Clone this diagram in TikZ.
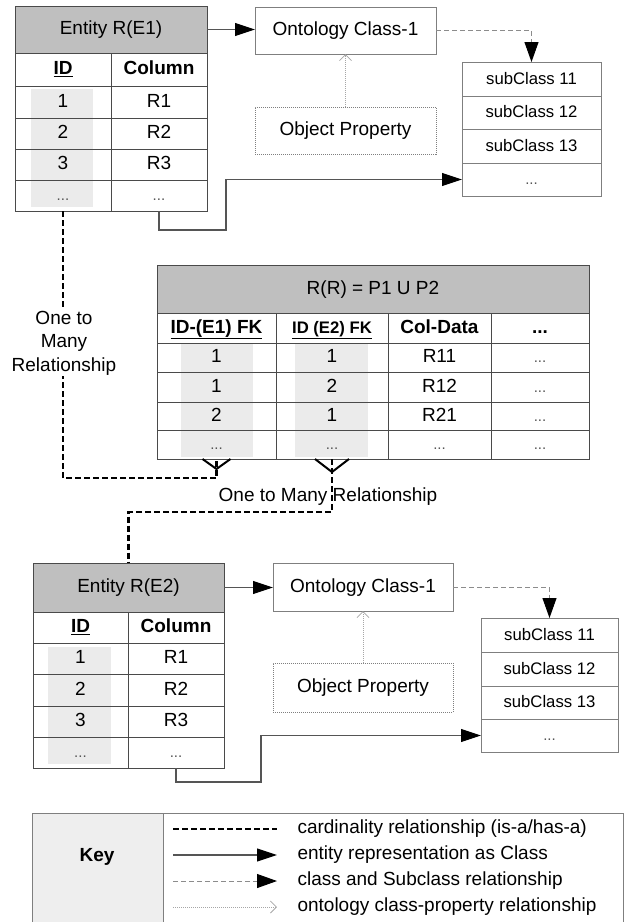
\documentclass[tikz,border=0pt]{standalone}
\usepackage{fontspec}
\setmainfont{Liberation Sans}
\usetikzlibrary{arrows.meta,calc}
\definecolor{hdrgray}{HTML}{BFBFBF}
\definecolor{shadec}{HTML}{EBEBEB}
\definecolor{keyfill}{HTML}{EEEEEE}
\definecolor{tline}{HTML}{4A4A4A}
\definecolor{bline}{HTML}{7F7F7F}
\definecolor{conn}{HTML}{555555}
\definecolor{dashc}{HTML}{8C8C8C}
\definecolor{dotc}{HTML}{A6A6A6}
\definecolor{ellc}{HTML}{555555}
\newcommand\fs{\fontsize{19}{22}\selectfont}
\newcommand\fsm{\fontsize{16.7}{20}\selectfont}
\newcommand\dd{{\fontsize{15}{18}\selectfont\color{ellc}...}}
\newcommand\ulb[1]{\underline{\textbf{#1}}}
\newcommand\tc[7][]{\node[cellb,minimum width=#5pt,minimum height=#6pt,#1] (#2) at (#3,#4) {#7};}
\begin{document}
\begin{tikzpicture}[x=1pt,y=-1pt,
  cellb/.style={draw=tline,line width=1pt,inner sep=0pt,outer sep=0pt,anchor=north west,text height=13pt,text depth=3pt,font=\fs},
  hdr/.style={fill=hdrgray},
  obox/.style={draw=bline},
  pbox/.style={draw=bline,line width=0.8pt,dash pattern=on 1pt off 1pt},
  sub/.style={draw=bline,font=\fsm},
  entarrow/.style={draw=conn,line width=1.1pt,-{Triangle[length=20pt,width=13pt,color=black]}},
  subarrow/.style={draw=dashc,line width=1pt,dash pattern=on 5pt off 3pt,-{Triangle[length=20pt,width=14pt,color=black]}},
  proparrow/.style={draw=dotc,line width=0.8pt,dash pattern=on 1pt off 1pt,-{Straight Barb[length=6pt,width=12pt]}},
  card/.style={draw=black,line width=2.5pt,dash pattern=on 6pt off 3pt},
  crow/.style={draw=black,line width=2pt}
]
\useasboundingbox (0,0) rectangle (634,922);
\clip (0,0) rectangle (634,922);

% shading of key columns
\fill[shadec] (31,89) rectangle (93,207);
\fill[shadec] (181,344) rectangle (253,457);
\fill[shadec] (295,344) rectangle (368,457);
\fill[shadec] (48,647) rectangle (111,764);

% ---------- Entity E1 ----------
\tc[hdr]{E1h}{15}{6}{192}{47}{Entity R(E1)}
\tc{E1i0}{15}{53}{96}{33}{\ulb{ID}}
\tc{E1c0}{111}{53}{96}{33}{\textbf{Column}}
\tc{E1i1}{15}{86}{96}{32}{1}
\tc{E1c1}{111}{86}{96}{32}{R1}
\tc{E1i2}{15}{118}{96}{31}{2}
\tc{E1c2}{111}{118}{96}{31}{R2}
\tc{E1i3}{15}{149}{96}{31}{3}
\tc{E1c3}{111}{149}{96}{31}{R3}
\tc{E1i4}{15}{180}{96}{31}{\dd}
\tc{E1c4}{111}{180}{96}{31}{\dd}

\tc[obox]{O1}{255}{7}{181}{47}{Ontology Class-1}
\tc[pbox]{P1}{255}{107}{181}{47}{Object Property}

\tc[sub]{S11}{462}{62}{139}{34}{subClass 11}
\tc[sub]{S12}{462}{96}{139}{33}{subClass 12}
\tc[sub]{S13}{462}{129}{139}{34}{subClass 13}
\tc[sub]{S14}{462}{163}{139}{33}{\dd}

% ---------- Relation table ----------
\tc[hdr]{Mh}{157}{265}{432}{48}{R(R) = P1 U P2}
\tc{M01}{157}{313}{119}{30}{\ulb{ID-(E1) FK}}
\tc[font=\fsm]{M02}{276}{313}{112}{30}{\ulb{ID (E2) FK}}
\tc{M03}{388}{313}{103}{30}{\textbf{Col-Data}}
\tc{M04}{491}{313}{98}{30}{\textbf{...}}
\tc{M11}{157}{343}{119}{29}{1}
\tc{M12}{276}{343}{112}{29}{1}
\tc{M13}{388}{343}{103}{29}{R11}
\tc{M14}{491}{343}{98}{29}{\dd}
\tc{M21}{157}{372}{119}{30}{1}
\tc{M22}{276}{372}{112}{30}{2}
\tc{M23}{388}{372}{103}{30}{R12}
\tc{M24}{491}{372}{98}{30}{\dd}
\tc{M31}{157}{402}{119}{28}{2}
\tc{M32}{276}{402}{112}{28}{1}
\tc{M33}{388}{402}{103}{28}{R21}
\tc{M34}{491}{402}{98}{28}{\dd}
\tc{M41}{157}{430}{119}{29}{\dd}
\tc{M42}{276}{430}{112}{29}{\dd}
\tc{M43}{388}{430}{103}{29}{\dd}
\tc{M44}{491}{430}{98}{29}{\dd}

% ---------- Entity E2 ----------
\tc[hdr]{E2h}{33}{563}{191}{49}{Entity R(E2)}
\tc{E2i0}{33}{612}{95}{31}{\ulb{ID}}
\tc{E2c0}{128}{612}{96}{31}{\textbf{Column}}
\tc{E2i1}{33}{643}{95}{31}{1}
\tc{E2c1}{128}{643}{96}{31}{R1}
\tc{E2i2}{33}{674}{95}{32}{2}
\tc{E2c2}{128}{674}{96}{32}{R2}
\tc{E2i3}{33}{706}{95}{31}{3}
\tc{E2c3}{128}{706}{96}{31}{R3}
\tc{E2i4}{33}{737}{95}{31}{\dd}
\tc{E2c4}{128}{737}{96}{31}{\dd}

\tc[obox]{O2}{273}{563}{180}{48}{Ontology Class-1}
\tc[pbox]{P2}{273}{663}{180}{49}{Object Property}

\tc[sub]{S21}{481}{618}{137}{34}{subClass 11}
\tc[sub]{S22}{481}{652}{137}{34}{subClass 12}
\tc[sub]{S23}{481}{686}{137}{33}{subClass 13}
\tc[sub]{S24}{481}{719}{137}{33}{\dd}

% ---------- connectors E1 ----------
\draw[entarrow] (E1h.east) -- (E1h.east -| O1.west);
\draw[subarrow] (O1.east) -| (S11.north);
\draw[proparrow] (P1.north) -- (O1.south);
\coordinate (b1) at (226,230);
\draw[entarrow] (E1c4.south) |- (b1) |- (S14.west);

% ---------- connectors E2 ----------
\draw[entarrow] (E2h.east) -- (E2h.east -| O2.west);
\draw[subarrow] (O2.east) -| (S21.north);
\draw[proparrow] (P2.north) -- (O2.south);
\coordinate (b2) at (261,782);
\draw[entarrow] (E2c4.south) |- (b2) |- (S24.west);

% ---------- cardinality ----------
\coordinate (c1) at (216.5,478);
\draw[card] (E1i4.south) |- (c1) -- (M41.south);
\draw[crow] ($(M41.south)+(-14,0)$) -- ($(M41.south)+(0,10)$) -- ($(M41.south)+(14,0)$);
\node[fill=white,align=center,inner sep=1pt,font={\fontsize{19}{23.5}\selectfont}] (lab1) at (64,343) {One to\\Many\\Relationship};

\coordinate (c2) at (332,512);
\draw[card] (M42.south) -- (c2) -| (E2h.north);
\draw[crow] ($(M42.south)+(-17,0)$) -- ($(M42.south)+(0,13)$) -- ($(M42.south)+(17,0)$);
\node[font=\fs] (lab2) at (328,497) {One to Many Relationship};

% ---------- key ----------
\fill[keyfill] (32,813) rectangle (163,930);
\draw[draw=bline,line width=1pt] (32,930) -- (32,813) -- (623,813) -- (623,930);
\draw[draw=bline,line width=1pt] (163,813) -- (163,930);
\node[font={\fs\bfseries}] (key) at (97,857) {Key};
\coordinate (ka1) at (173,829); \coordinate (kb1) at (277,829);
\coordinate (ka2) at (173,855); \coordinate (kb2) at (277,855);
\coordinate (ka3) at (173,881); \coordinate (kb3) at (277,881);
\coordinate (ka4) at (173,907); \coordinate (kb4) at (277,907);
\draw[card,line width=2pt] (ka1) -- (kb1);
\draw[entarrow] (ka2) -- (kb2);
\draw[subarrow] (ka3) -- (kb3);
\draw[proparrow] (ka4) -- (kb4);
\node[anchor=west,font=\fs] (kt1) at (294,829) {cardinality relationship (is-a/has-a)};
\node[anchor=west,font=\fs] (kt2) at (294,855) {entity representation as Class};
\node[anchor=west,font=\fs] (kt3) at (294,881) {class and Subclass relationship};
\node[anchor=west,font=\fs] (kt4) at (294,907) {ontology class-property relationship};
\end{tikzpicture}
\end{document}
